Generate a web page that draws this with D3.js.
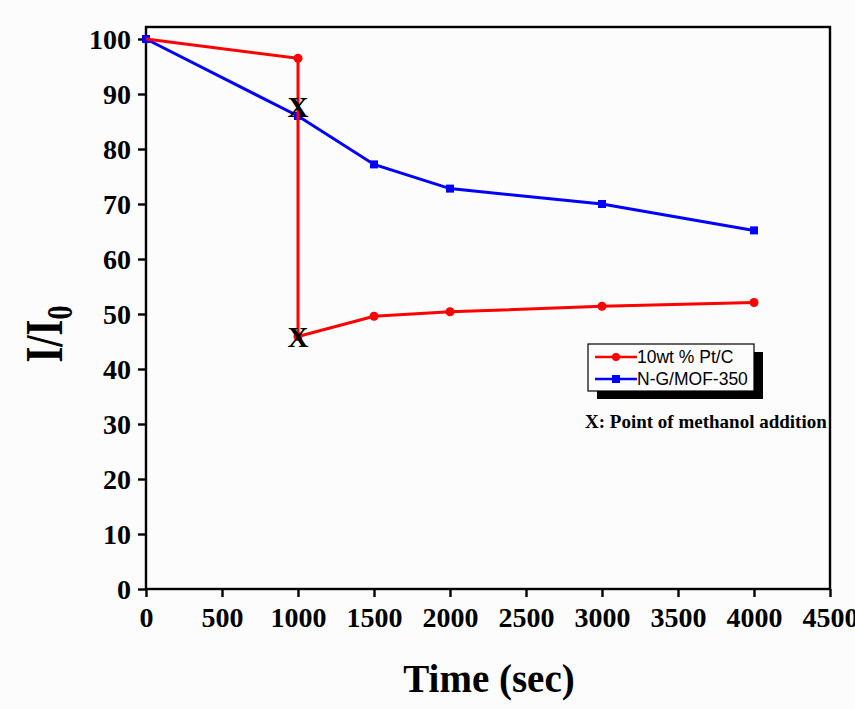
<!DOCTYPE html>
<html>
<head>
<meta charset="utf-8">
<script src="https://cdn.jsdelivr.net/npm/d3@7"></script>
<style>
  body { margin: 0; background: #fcfcfc; }
  svg { display: block; }
</style>
</head>
<body>
<svg id="chart"></svg>
<script>
// data
var ptcTime = [0, 1000, 1000, 1500, 2000, 3000, 4000];
var ptcValue = [100, 96.5, 45.9, 49.6, 50.4, 51.4, 52.1];
var mofTime = [0, 1000, 1500, 2000, 3000, 4000];
var mofValue = [100, 86, 77.2, 72.8, 70, 65.2];
var xTicks = [0, 500, 1000, 1500, 2000, 2500, 3000, 3500, 4000, 4500];
var yTicks = [0, 10, 20, 30, 40, 50, 60, 70, 80, 90, 100];
var seriesNames = ["10wt % Pt/C", "N-G/MOF-350"];

var W = 855, H = 709;
var pLeft = 146, pRight = 830, pTop = 27, pBottom = 589;

var svg = d3.select("svg#chart")
			.attr("width", W)
			.attr("height", H);

var x = d3.scaleLinear().domain([0, 4500]).range([pLeft, pRight]);
var y = d3.scaleLinear().domain([0, 100]).range([pBottom, 39]);

var serif = "'Liberation Serif', 'Times New Roman', serif";

// frame
svg.append("rect")
	.attr("x", pLeft).attr("y", pTop)
	.attr("width", pRight - pLeft).attr("height", pBottom - pTop)
	.attr("fill", "none").attr("stroke", "#000").attr("stroke-width", 2.4);

// axes
var xAxis = svg.append("g")
	.attr("transform", "translate(0," + pBottom + ")")
	.call(d3.axisBottom(x).tickValues(xTicks).tickSize(8).tickPadding(6).tickFormat(d3.format("d")));
var yAxis = svg.append("g")
	.attr("transform", "translate(" + pLeft + ",0)")
	.call(d3.axisLeft(y).tickValues(yTicks).tickSize(8).tickPadding(7).tickFormat(d3.format("d")));

[xAxis, yAxis].forEach(function(a) {
	a.select(".domain").remove();
	a.selectAll(".tick line").attr("stroke", "#000").attr("stroke-width", 2.4);
	a.selectAll(".tick text")
		.attr("fill", "#000")
		.style("font-family", serif)
		.style("font-weight", "bold")
		.style("font-size", "28px");
});
xAxis.selectAll(".tick text").attr("dy", "0.85em");
yAxis.selectAll(".tick text").attr("dy", "0.33em");

// axis titles
svg.append("text")
	.attr("x", 489).attr("y", 692)
	.attr("text-anchor", "middle")
	.style("font-family", serif).style("font-weight", "bold").style("font-size", "39px")
	.text("Time (sec)");

// y title, squeezed along its baseline like the original
var yt = svg.append("text")
	.attr("transform", "translate(62,334) rotate(-90) scale(0.78,1)")
	.attr("text-anchor", "middle")
	.style("font-family", serif).style("font-weight", "bold").style("font-size", "52px");
yt.append("tspan").text("I/I");
yt.append("tspan").attr("dy", 10).style("font-size", "36px").text("0");

// series
var line = d3.line().x(function(d) { return x(d[0]); }).y(function(d) { return y(d[1]); });
var ptc = d3.zip(ptcTime, ptcValue);
var mof = d3.zip(mofTime, mofValue);

svg.append("path").datum(mof)
	.attr("d", line).attr("fill", "none").attr("stroke", "#0000ff").attr("stroke-width", 3);
svg.selectAll("rect.mof").data(mof).enter().append("rect")
	.attr("class", "mof")
	.attr("x", function(d) { return x(d[0]) - 4; })
	.attr("y", function(d) { return y(d[1]) - 4; })
	.attr("width", 8).attr("height", 8)
	.attr("fill", "#0000ff");

svg.append("path").datum(ptc)
	.attr("d", line).attr("fill", "none").attr("stroke", "#ff0000").attr("stroke-width", 3);
svg.selectAll("circle.ptc").data(ptc.slice(1)).enter().append("circle")
	.attr("class", "ptc")
	.attr("cx", function(d) { return x(d[0]); })
	.attr("cy", function(d) { return y(d[1]); })
	.attr("r", 4.5)
	.attr("fill", "#ff0000");

// methanol addition marks
[[1000, 87.6], [1000, 45.9]].forEach(function(p) {
	svg.append("text")
		.attr("x", x(p[0])).attr("y", y(p[1]) + 10)
		.attr("text-anchor", "middle")
		.style("font-family", serif).style("font-weight", "bold").style("font-size", "29px")
		.text("X");
});

// legend
var lg = svg.append("g").attr("transform", "translate(588,344)");
lg.append("rect").attr("x", 9).attr("y", 8).attr("width", 166).attr("height", 47).attr("fill", "#000");
lg.append("rect").attr("x", 0).attr("y", 0).attr("width", 166).attr("height", 47)
	.attr("fill", "#fcfcfc").attr("stroke", "#000").attr("stroke-width", 1.2);
var colors = ["#ff0000", "#0000ff"];
seriesNames.forEach(function(name, i) {
	var yy = 13 + i * 22;
	lg.append("line").attr("x1", 7).attr("x2", 49).attr("y1", yy).attr("y2", yy)
		.attr("stroke", colors[i]).attr("stroke-width", 2.5);
	if (i == 0) {
		lg.append("circle").attr("cx", 28).attr("cy", yy).attr("r", 4).attr("fill", colors[i]);
	} else {
		lg.append("rect").attr("x", 24).attr("y", yy - 4).attr("width", 8).attr("height", 8).attr("fill", colors[i]);
	}
	lg.append("text").attr("x", 49).attr("y", yy + 6)
		.style("font-family", "'Liberation Sans', Arial, sans-serif").style("font-size", "17.5px")
		.text(name);
});

svg.append("text")
	.attr("x", 585).attr("y", 428)
	.style("font-family", serif).style("font-weight", "bold").style("font-size", "19px")
	.text("X: Point of methanol addition");
</script>
</body>
</html>
